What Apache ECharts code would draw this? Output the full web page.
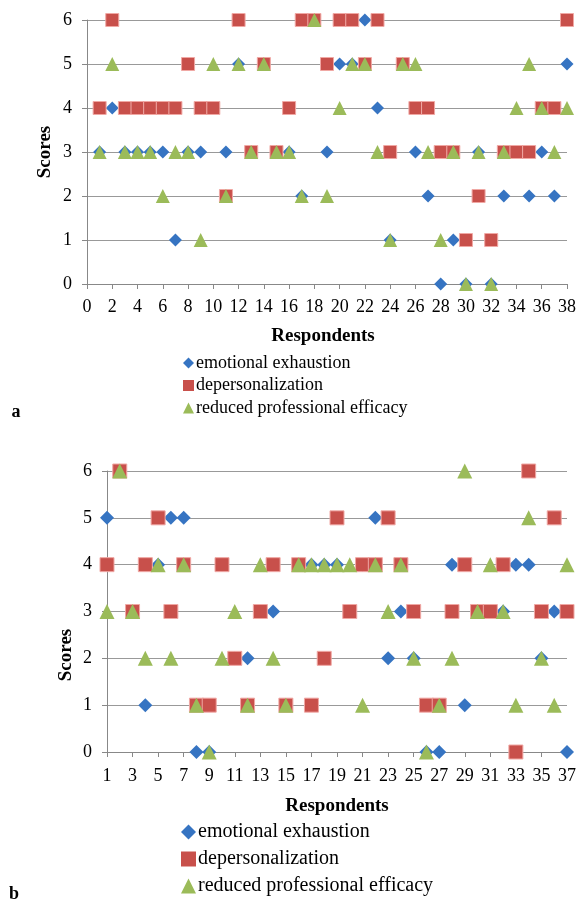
<!DOCTYPE html>
<html><head><meta charset="utf-8">
<script src="https://cdn.jsdelivr.net/npm/echarts@6/dist/echarts.min.js"></script>
<style>html,body{margin:0;padding:0;background:#fff}#c{width:579px;height:901px}</style>
</head><body><div id="c"></div>
<script>
// Panel a: respondents 1..38
const respA = Array.from({length:38},(_,i)=>i+1);
const eeA  = [3,4,3,3,3,3,1,3,3,4,3,5,3,5,3,3,2,6,3,5,5,6,4,1,5,3,2,0,1,0,3,0,2,3,2,3,2,5];
const dpA  = [4,6,4,4,4,4,4,5,4,4,2,6,3,5,3,4,6,6,5,6,6,5,6,3,5,4,4,3,3,1,2,1,3,3,3,4,4,6];
const rpeA = [3,5,3,3,3,2,3,3,1,5,2,5,3,5,3,3,2,6,2,4,5,5,3,1,5,5,3,1,3,0,3,0,3,4,5,4,3,4];
// Panel b: respondents 1..37
const respB = Array.from({length:37},(_,i)=>i+1);
const eeB  = [5,6,3,1,4,5,5,0,0,4,2,2,3,3,1,4,4,4,4,3,4,5,2,3,2,0,0,4,1,3,3,3,4,4,2,3,0];
const dpB  = [4,6,3,4,5,3,4,1,1,4,2,1,3,4,1,4,1,2,5,3,4,4,5,4,3,1,1,3,4,3,3,4,0,6,3,5,3];
const rpeB = [3,6,3,2,4,2,4,1,0,2,3,1,4,2,1,4,4,4,4,4,1,4,3,4,2,0,1,2,6,3,4,3,1,5,2,1,4];
const seriesNames = ['emotional exhaustion','depersonalization','reduced professional efficacy'];
const yTicks = [0,1,2,3,4,5,6];

const BLUE='#3674C2', RED='#C8504B', GREEN='#9BBB59';
const FONT='Liberation Serif';
const pair=(xs,ys)=>xs.map((x,i)=>[x,ys[i]]);

function axes(gi, xmin, xmax, xm){
  return {
    x:{type:'value',gridIndex:gi,min:xmin,max:xmax,interval:2,
      axisLine:{show:true,lineStyle:{color:'#888',width:1}},
      axisTick:{show:true,length:5,lineStyle:{color:'#888'}},
      axisLabel:{color:'#000',fontFamily:FONT,fontSize:18,margin:xm},
      splitLine:{show:false}},
    y:{type:'value',gridIndex:gi,min:0,max:6,interval:1,
      axisLine:{show:true,lineStyle:{color:'#888',width:1}},
      axisTick:{show:true,length:5,lineStyle:{color:'#888'}},
      axisLabel:{color:'#000',fontFamily:FONT,fontSize:18,margin:15},
      splitLine:{show:true,lineStyle:{color:'#999',width:1}}}
  };
}
const A=axes(0,0,38,14), B=axes(1,1,37,15);

function mk(gi, data, name, sym, size, color, border){
  return {type:'scatter',name,xAxisIndex:gi,yAxisIndex:gi,data,symbol:sym,symbolSize:size,
    itemStyle:{color,opacity:1,borderColor:border||color,borderWidth:border?1:0},z:3};
}

const legendCommon=(top,left,fs,isz,gap,tp)=>({
  orient:'vertical',top,left,height:120,padding:0,itemWidth:isz,itemHeight:isz,itemGap:gap,
  textStyle:{fontFamily:FONT,fontSize:fs,color:'#000',padding:[0,0,0,tp]},
  data:[{name:seriesNames[0],icon:'diamond',itemStyle:{color:BLUE,borderWidth:0}},
        {name:seriesNames[1],icon:'rect',itemStyle:{color:RED,borderWidth:0}},
        {name:seriesNames[2],icon:'triangle',itemStyle:{color:GREEN,borderWidth:0}}],
  selectedMode:false
});

const chart=echarts.init(document.getElementById('c'),null,{renderer:'canvas'});
chart.setOption({
  animation:false,
  grid:[{left:87,top:20,width:484,height:264},{left:107,top:471,width:461,height:281}],
  xAxis:[A.x,B.x], yAxis:[A.y,B.y],
  legend:[legendCommon(354,183,18,11,4.5,-3),legendCommon(822,181,20,15,7,-3)],
  series:[
    mk(0,pair(respA,eeA),seriesNames[0],'diamond',13,BLUE),
    mk(0,pair(respA,dpA),seriesNames[1],'rect',13,RED,'#F0A8A4'),
    mk(0,pair(respA,rpeA),seriesNames[2],'triangle',14,GREEN),
    mk(1,pair(respB,eeB),seriesNames[0],'diamond',14,BLUE),
    mk(1,pair(respB,dpB),seriesNames[1],'rect',14,RED,'#F0A8A4'),
    mk(1,pair(respB,rpeB),seriesNames[2],'triangle',15,GREEN)
  ],
  graphic:[
    {type:'text',x:45,y:152,rotation:Math.PI/2,style:{text:'Scores',fontFamily:FONT,fontWeight:'bold',fontSize:19,fill:'#000',textAlign:'center',textVerticalAlign:'middle'}},
    {type:'text',x:323,y:336,style:{text:'Respondents',fontFamily:FONT,fontWeight:'bold',fontSize:19,fill:'#000',textAlign:'center',textVerticalAlign:'middle'}},
    {type:'text',x:16,y:412,style:{text:'a',fontFamily:FONT,fontWeight:'bold',fontSize:18,fill:'#000',textAlign:'center',textVerticalAlign:'middle'}},
    {type:'text',x:66,y:655,rotation:Math.PI/2,style:{text:'Scores',fontFamily:FONT,fontWeight:'bold',fontSize:19,fill:'#000',textAlign:'center',textVerticalAlign:'middle'}},
    {type:'text',x:337,y:806,style:{text:'Respondents',fontFamily:FONT,fontWeight:'bold',fontSize:19,fill:'#000',textAlign:'center',textVerticalAlign:'middle'}},
    {type:'text',x:14,y:894,style:{text:'b',fontFamily:FONT,fontWeight:'bold',fontSize:18,fill:'#000',textAlign:'center',textVerticalAlign:'middle'}}
  ]
});
</script></body></html>
